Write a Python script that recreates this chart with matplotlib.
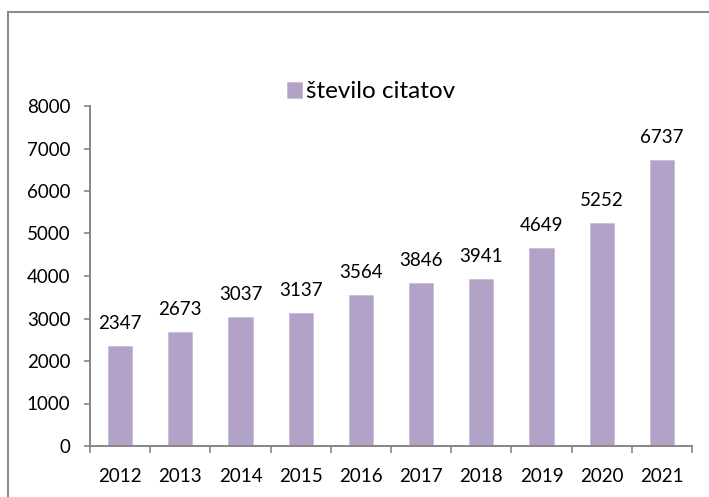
import matplotlib
matplotlib.use("Agg")
import matplotlib.pyplot as plt
import numpy as np
from matplotlib.lines import Line2D

years = ["2012", "2013", "2014", "2015", "2016", "2017", "2018", "2019", "2020", "2021"]
citations = [2347, 2673, 3037, 3137, 3564, 3846, 3941, 4649, 5252, 6737]
series_name = "število citatov"
yticks = [0, 1000, 2000, 3000, 4000, 5000, 6000, 7000, 8000]

plt.rcParams['font.family'] = ['Lato', 'DejaVu Sans']
W, H = 709, 497
fig = plt.figure(figsize=(W / 100, H / 100), dpi=100)
ax = fig.add_axes([90 / W, 1 - 446 / H, (692 - 90) / W, (446 - 106) / H])

x = np.arange(len(years))
bar_color = "#b3a2c7"
bars = ax.bar(x, citations, width=0.4, color=bar_color, label=series_name,
              edgecolor="#c9bdd8", linewidth=0.6)
for xi, v in zip(x, citations):
    ax.annotate(str(v), (xi, v), xytext=(0, 17), textcoords="offset pixels",
                ha="center", va="baseline", fontsize=13.5, color="black")

ax.set_xlim(-0.5, len(years) - 0.5)
ax.set_ylim(0, 8000)
ax.set_yticks(yticks)
ax.set_yticklabels([str(t) for t in yticks])
ax.set_xticks(x)
ax.set_xticklabels(years)
ax.set_xticks(np.arange(len(years) + 1) - 0.5, minor=True)

gray = "#868686"
for s in ["top", "right"]:
    ax.spines[s].set_visible(False)
for s in ["left", "bottom"]:
    ax.spines[s].set_color(gray)
    ax.spines[s].set_linewidth(1.4)

ax.tick_params(axis="y", direction="out", length=4, width=1.2, color=gray,
               labelsize=13.5, pad=10)
ax.tick_params(axis="x", which="major", length=0, labelsize=13.5, pad=16)
ax.tick_params(axis="x", which="minor", direction="out", length=5, width=1.2, color=gray)

leg = fig.legend(handles=[bars], labels=[series_name], loc="center left",
                 bbox_to_anchor=(287 / W, 1 - 92 / H), frameon=False,
                 fontsize=17.5, handlelength=0.62, handleheight=0.62,
                 handletextpad=0.15, borderpad=0, borderaxespad=0)

# outer chart frame
fc = "#8c8c8c"
fig.add_artist(Line2D([8 / W, 8 / W], [0, 1 - 12 / H], transform=fig.transFigure,
                      color=fc, linewidth=1.5))
fig.add_artist(Line2D([8 / W, 1], [1 - 12 / H, 1 - 12 / H], transform=fig.transFigure,
                      color=fc, linewidth=1.5))

fig.savefig("out.png", dpi=100)
